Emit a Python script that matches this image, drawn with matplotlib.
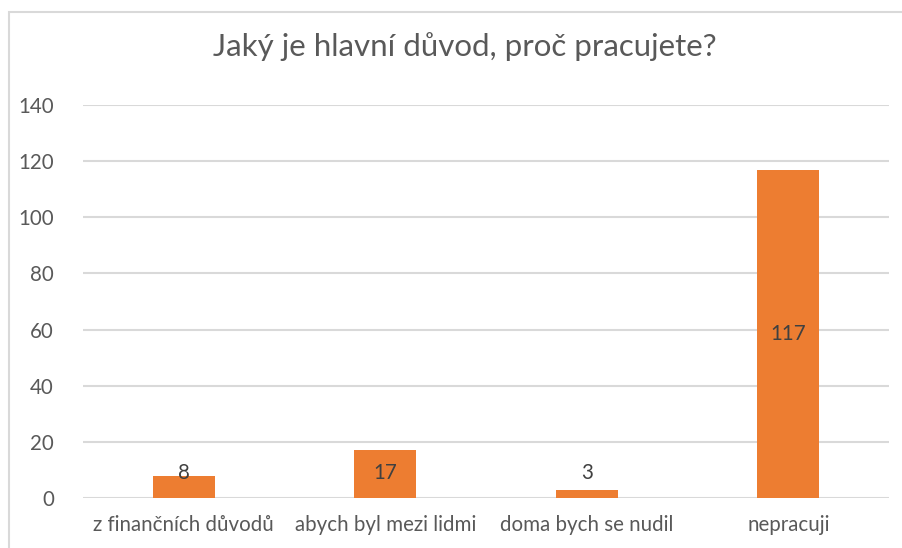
import matplotlib.pyplot as plt
import matplotlib.patches as mpatches
import numpy as np

categories = ["z finančních důvodů", "abych byl mezi lidmi", "doma bych se nudil", "nepracuji"]
counts = [8, 17, 3, 117]
yticks = [0, 20, 40, 60, 80, 100, 120, 140]

bar_color = "#ED7D31"
text_color = "#595959"
grid_color = "#D9D9D9"

plt.rcParams['font.family'] = ['Lato', 'DejaVu Sans']

fig = plt.figure(figsize=(9.02, 5.48), dpi=100)
ax = fig.add_axes([0.092, 0.0912, 0.8936, 0.7172])

x = np.arange(len(categories))
ax.bar(x, counts, width=0.31, color=bar_color, zorder=3)

# value labels sit in the middle of the bar, never lower than a small floor
for xi, v in zip(x, counts):
    ax.text(xi, max(v / 2, 8.9), str(v), ha='center', va='center',
            fontsize=14.8, color="#404040", zorder=4)

ax.set_xlim(-0.5, len(categories) - 0.5)
ax.set_ylim(0, 140)
ax.set_yticks(yticks)
ax.set_xticks(x)
ax.set_xticklabels(categories)
ax.tick_params(axis='y', length=0, pad=21, labelsize=14.8, labelcolor=text_color)
ax.tick_params(axis='x', length=0, pad=12, labelsize=14.8, labelcolor=text_color)
ax.grid(axis='y', color=grid_color, linewidth=1.5, zorder=0)
for s in ax.spines.values():
    s.set_visible(False)

fig.text(0.5156, 1 - 47 / 548, "Jaký je hlavní důvod, proč pracujete?",
         ha='center', va='center', fontsize=22.5, color=text_color)

# chart area frame
fig.patches.append(mpatches.Rectangle((9 / 902, -0.2), 1.2, 1.2 - 12 / 548,
                                      transform=fig.transFigure, fill=False,
                                      edgecolor=grid_color, linewidth=1.5))

fig.savefig("out.png", dpi=100)
